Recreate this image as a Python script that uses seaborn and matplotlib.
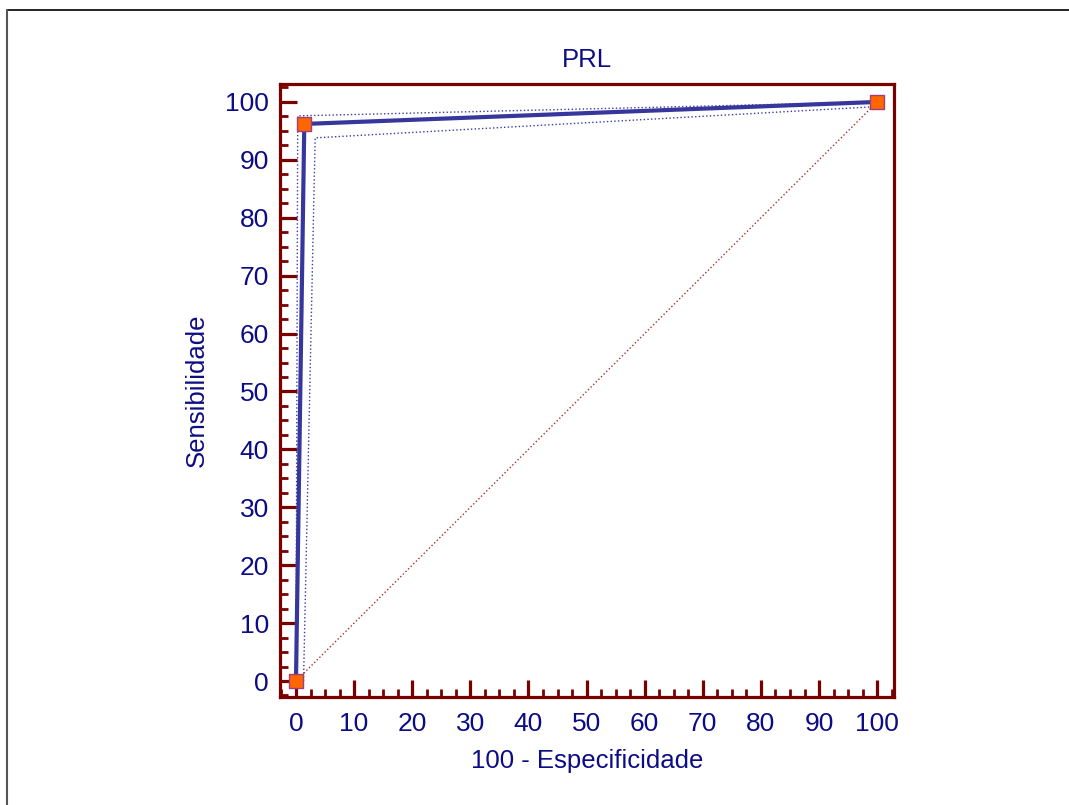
import matplotlib
matplotlib.use("Agg")
import matplotlib.pyplot as plt
import seaborn as sns
import pandas as pd
from matplotlib.lines import Line2D
from matplotlib.ticker import MultipleLocator

# ---- data ----
roc_fpr = [0, 1.43, 100]
roc_tpr = [0, 96.2, 100]
upper_x = [0, 0.3, 100]
upper_y = [0, 97.6, 100]
lower_x = [1.3, 3.3, 100]
lower_y = [0, 93.8, 99.2]
diag_x = [0, 100]
diag_y = [0, 100]
ticks = [0, 10, 20, 30, 40, 50, 60, 70, 80, 90, 100]

title = "PRL"
xlabel = "100 - Especificidade"
ylabel = "Sensibilidade"

sns.set_style("white")
plt.rcParams['font.family'] = ['Liberation Sans', 'DejaVu Sans']

navy = "#0c0c84"
maroon = "#7a0000"

fig = plt.figure(figsize=(10.69, 8.05), dpi=100)
ax = fig.add_axes([280/1069, 1-697/805, (894-280)/1069, (697-84)/805])

roc = pd.DataFrame({"x": roc_fpr, "y": roc_tpr})
up = pd.DataFrame({"x": upper_x, "y": upper_y})
lo = pd.DataFrame({"x": lower_x, "y": lower_y})
dg = pd.DataFrame({"x": diag_x, "y": diag_y})

sns.lineplot(data=dg, x="x", y="y", sort=False, estimator=None, ax=ax,
             color="#a83030", linestyle=":", linewidth=1.0)
sns.lineplot(data=up, x="x", y="y", sort=False, estimator=None, ax=ax,
             color="#3a3aa8", linestyle=":", linewidth=1.0)
sns.lineplot(data=lo, x="x", y="y", sort=False, estimator=None, ax=ax,
             color="#3a3aa8", linestyle=":", linewidth=1.0)
sns.lineplot(data=roc, x="x", y="y", sort=False, estimator=None, ax=ax,
             color="#36369c", linewidth=3.0)
sns.scatterplot(data=roc, x="x", y="y", ax=ax, marker="s", s=110,
                color="#ff6600", edgecolor="#a0407a", linewidth=1.0, zorder=5)

ax.set_xlim(-2.75, 102.9)
ax.set_ylim(-2.76, 103.1)
ax.set_xticks(ticks)
ax.set_yticks(ticks)
ax.xaxis.set_minor_locator(MultipleLocator(2.5))
ax.yaxis.set_minor_locator(MultipleLocator(2.5))

for s in ax.spines.values():
    s.set_color(maroon)
    s.set_linewidth(2.3)

ax.tick_params(axis="both", which="major", direction="in", length=12, width=2.3,
               color=maroon, labelcolor=navy, labelsize=19, pad=8,
               bottom=True, left=True, top=False, right=False)
ax.tick_params(axis="x", which="major", pad=11)
ax.tick_params(axis="both", which="minor", direction="in", length=6, width=2.0,
               color=maroon, bottom=True, left=True, top=False, right=False)

ax.set_title(title, color=navy, fontsize=18.5, pad=12)
ax.set_xlabel(xlabel, color=navy, fontsize=18.5, labelpad=9)
ax.set_ylabel(ylabel, color=navy, fontsize=18.5, labelpad=12)

# outer frame (top and left lines)
fig.add_artist(Line2D([7/1069, 1.0], [1-10/805, 1-10/805], transform=fig.transFigure,
                      color="black", linewidth=1.2))
fig.add_artist(Line2D([7/1069, 7/1069], [1-10/805, 0.0], transform=fig.transFigure,
                      color="#555555", linewidth=1.5))

fig.savefig("out.png", dpi=100)
